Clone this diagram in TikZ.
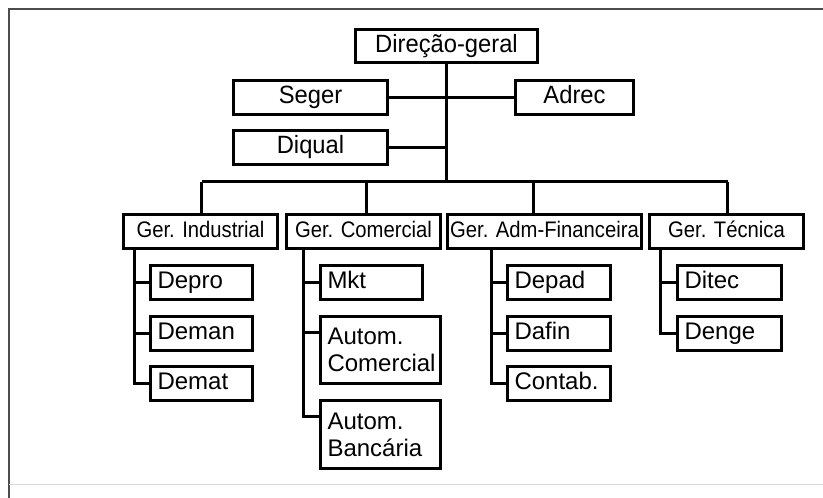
\documentclass[tikz,border=0pt]{standalone}
\usepackage{fontspec}
\setmainfont{Liberation Sans}
\newfontfamily\topfont[FakeStretch=0.95]{Liberation Sans}
\newfontfamily\gerfont[FakeStretch=0.9]{Liberation Sans}
\usetikzlibrary{calc}
\begin{document}
\begin{tikzpicture}[x=1pt,y=-1pt,
  box/.style={draw, line width=3pt, inner sep=0pt, outer sep=0pt},
  oneline/.style={text height=17pt, text depth=5pt},
  topbox/.style={box, oneline, font=\topfont\fontsize{25}{29}\selectfont, minimum height=34pt},
  gerbox/.style={box, oneline, font=\gerfont\fontsize{22.5}{26}\selectfont, minimum height=34pt},
  child/.style={box, font=\fontsize{24}{27}\selectfont, inner xsep=7pt, inner ysep=0pt, align=left, minimum height=34pt, anchor=north west},
  link/.style={line width=3pt}]
\useasboundingbox[fill=white] (0,0) rectangle (823,498);
% frame
\draw[line width=2pt, black!70] (823,9) -- (9,9) -- (9,498);
\draw[line width=1pt, black!15] (9,484.5) -- (823,484.5);
% top
\node[topbox, minimum width=182pt, minimum height=33pt] (dg) at (446.5,46) {Direção-geral};
\node[topbox, minimum width=154pt] (seger) at (310.5,97.5) {Seger};
\node[topbox, minimum width=118pt] (adrec) at (574.5,97.5) {Adrec};
\node[topbox, minimum width=154pt] (diqual) at (310.5,147.5) {Diqual};
% managers
\node[gerbox, minimum width=154pt] (gi) at (200.5,231.5) {Ger. Industrial};
\node[gerbox, minimum width=154pt] (gc) at (363.5,231.5) {Ger. Comercial};
\node[gerbox, minimum width=194pt] (ga) at (544.5,231.5) {Ger. Adm-Financeira};
\node[gerbox, minimum width=154pt] (gt) at (726.5,231.5) {Ger. Técnica};
% children
\node[child, oneline, text width=88pt] (depro) at (150.5,265.5) {Depro};
\node[child, oneline, text width=88pt] (deman) at (150.5,316.5) {Deman};
\node[child, oneline, text width=88pt] (demat) at (150.5,366.5) {Demat};
\node[child, oneline, text width=88pt] (mkt) at (320.5,265.5) {Mkt};
\node[child, text width=106pt, minimum height=67pt] (ac) at (320.5,316.5) {Autom.\\Comercial};
\node[child, text width=106pt, minimum height=68pt] (ab) at (320.5,400.5) {Autom.\\Bancária};
\node[child, oneline, text width=89pt] (depad) at (507.5,265.5) {Depad};
\node[child, oneline, text width=89pt] (dafin) at (507.5,316.5) {Dafin};
\node[child, oneline, text width=89pt] (contab) at (507.5,366.5) {Contab.};
\node[child, oneline, text width=90pt] (ditec) at (677.5,265.5) {Ditec};
\node[child, oneline, text width=90pt] (denge) at (677.5,316.5) {Denge};
% trunk and staff
\coordinate (j) at (446.5,181.5);
\draw[link] (dg.south) -- (j);
\draw[link] (seger.east) -- (adrec.west);
\draw[link] (diqual.east) -- (diqual.east -| j);
% bus
\coordinate (b1) at (201.5,181.5);
\coordinate (b2) at (366.5,181.5);
\coordinate (b3) at (533.5,181.5);
\coordinate (b4) at (727.5,181.5);
\draw[link] (b1) -- (b4);
\draw[link] (b1) -- (b1 |- gi.north);
\draw[link] (b2) -- (b2 |- gc.north);
\draw[link] (b3) -- (b3 |- ga.north);
\draw[link] (b4) -- (b4 |- gt.north);
% stems
\coordinate (si) at ($(gi.south west)+(11,0)$);
\draw[link] (si) |- (demat.west);
\draw[link] (depro.west -| si) -- (depro.west);
\draw[link] (deman.west -| si) -- (deman.west);
\coordinate (sc) at ($(gc.south west)+(17,0)$);
\coordinate (acp) at ($(ac.north west)+(0,16)$);
\coordinate (abp) at ($(ab.north west)+(0,16)$);
\draw[link] (sc) |- (abp);
\draw[link] (mkt.west -| sc) -- (mkt.west);
\draw[link] (acp -| sc) -- (acp);
\coordinate (sa) at ($(ga.south west)+(44,0)$);
\draw[link] (sa) |- (contab.west);
\draw[link] (depad.west -| sa) -- (depad.west);
\draw[link] (dafin.west -| sa) -- (dafin.west);
\coordinate (st) at ($(gt.south west)+(11,0)$);
\draw[link] (st) |- (denge.west);
\draw[link] (ditec.west -| st) -- (ditec.west);
\end{tikzpicture}
\end{document}
